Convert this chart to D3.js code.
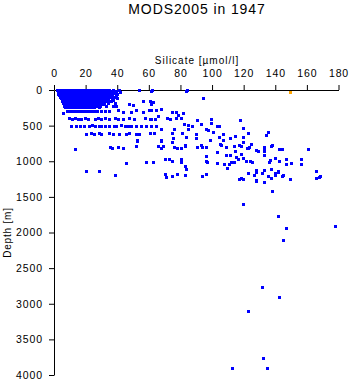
<!DOCTYPE html>
<html>
<head>
<meta charset="utf-8">
<script src="https://cdn.jsdelivr.net/npm/d3@7"></script>
<style>
  body { margin: 0; background: #fff; }
  svg { display: block; font-family: "Liberation Sans", Arial, sans-serif; }
</style>
</head>
<body>
<svg id="chart"></svg>
<script>
let blue = "#0000ff";
let orange = "#ffa500";

const width = 351;
const height = 384;
const margin = { top: 90, right: 12, bottom: 9, left: 54 };

const xTicks = [0, 20, 40, 60, 80, 100, 120, 140, 160, 180];
const yTicks = [0, 500, 1000, 1500, 2000, 2500, 3000, 3500, 4000];

// [silicate, depth] pairs
const surfacePoints = [
  [2.2,0],[4,0],[5.8,0],[7.5,0],[9.1,0],[10.9,0],[12.6,0],[14.2,0],[16,0],[17.7,0],[19.3,0],[21,0],[22.8,0],[24.5,0],[26.1,0],[27.9,0],[29.6,0],[31.2,0],[33,0],[34.6,0],[37.5,0],[41.2,0],[54,0],[62,0],[84,0],
  [2.8,12],[4.6,12],[6.4,12],[8.2,12],[10,12],[11.7,12],[13.5,12],[15.3,12],[17,12],[18.8,12],[20.6,12],[22.3,12],[24,12],[25.8,12],[27.5,12],[29.3,12],[31,12],[32.8,12],[34.4,12],[36.5,12],[39.4,12],[61.6,14],[83.7,14],
  [2.4,25],[4.2,25],[6,25],[7.9,25],[9.6,25],[11.4,25],[13.1,25],[14.9,25],[16.6,25],[18.4,25],[20.1,25],[21.9,25],[23.6,25],[25.3,25],[27.1,25],[28.8,25],[30.6,25],[32.3,25],[34,25],[36,25],[38.6,25],[42,25],
  [3,40],[4.8,40],[6.6,40],[8.3,40],[10.1,40],[11.8,40],[13.6,40],[15.4,40],[17.1,40],[18.9,40],[20.6,40],[22.4,40],[24.1,40],[25.9,40],[27.6,40],[29.4,40],[31.2,40],[33,40],[35.2,40],[37.8,40],
  [2.7,55],[4.5,55],[6.2,55],[8,55],[9.8,55],[11.5,55],[13.3,55],[15,55],[16.8,55],[18.5,55],[20.3,55],[22,55],[23.8,55],[25.5,55],[27.3,55],[29,55],[30.8,55],[32.6,55],[34.5,55],[37,55],[40.1,55],
  [3.4,75],[5.2,75],[7,75],[8.7,75],[10.5,75],[12.2,75],[14,75],[15.7,75],[17.5,75],[19.2,75],[21,75],[22.7,75],[24.5,75],[26.2,75],[28,75],[29.7,75],[31.5,75],[33.4,75],[36.1,75],[39,75],
  [3.6,95],[5.4,95],[7.1,95],[8.9,95],[10.6,95],[12.4,95],[14.1,95],[15.9,95],[17.6,95],[19.4,95],[21.1,95],[22.9,95],[24.6,95],[26.4,95],[28.1,95],[30,95],[32.2,95],[34.8,95],[38.2,95],[94.4,112],
  [4.5,115],[6.3,115],[8,115],[9.8,115],[11.5,115],[13.3,115],[15,115],[16.8,115],[18.5,115],[20.3,115],[22,115],[23.8,115],[25.5,115],[27.3,115],[29.1,115],[31,115],[33.5,115],[36.6,115],[39.9,115],
  [5,140],[6.8,140],[8.5,140],[10.3,140],[12,140],[13.8,140],[15.5,140],[17.3,140],[19,140],[20.8,140],[22.5,140],[24.3,140],[26,140],[27.8,140],[29.6,140],[31.7,140],[34.2,140],[37.3,140],[56.5,150],[60.5,150],
  [5.3,160],[7.1,160],[8.8,160],[10.6,160],[12.3,160],[14.1,160],[15.8,160],[17.6,160],[19.3,160],[21.1,160],[22.8,160],[24.6,160],[26.3,160],[28.2,160],[30.4,160],[33,160],[36,160],[62.8,168],
  [5.8,180],[7.6,180],[9.3,180],[11.1,180],[12.8,180],[14.6,180],[16.3,180],[18.1,180],[19.8,180],[21.6,180],[23.3,180],[25.1,180],[27,180],[29,180],[31.5,180],[34.4,180],[38.4,180],[61.6,196],
  [6.2,200],[8,200],[9.7,200],[11.5,200],[13.2,200],[15,200],[16.7,200],[18.5,200],[20.2,200],[22,200],[23.9,200],[26,200],[28.4,200],[31,200],[47.2,200],[50,210],
  [6.5,220],[8.3,220],[10.1,220],[11.8,220],[13.6,220],[15.3,220],[17.1,220],[18.8,220],[20.6,220],[22.4,220],[24.3,220],[26.5,220],[29,220],[32.8,220],[37.5,225],[39.5,230],
  [7,240],[8.8,240],[10.5,240],[12.3,240],[14,240],[15.8,240],[17.5,240],[19.3,240],[21.2,240],[23.3,240],[25.6,240],[28.3,240]
];

const midPoints = [
  [8,295],[9.8,290],[11.5,300],[13.3,290],[15,295],[16.8,290],[18.5,300],[20.3,290],[22,295],[23.8,300],[25.6,290],[27.5,295],[29.6,290],[32,300],[34.8,290],
  [40.7,281],[43.9,309],[49,309],[52,281],[56.5,309],[60.3,281],[61.6,281],[64.7,281],[67.9,267],[6,323],[74.9,309],[77.4,309],[78.6,351],[81.8,323],[66,365],[64,407],[61.6,407],
  [9.8,395],[11.6,405],[13.4,398],[15.3,410],[17.2,400],[19.5,393],[21.6,407],[25.8,400],[28,390],[30,405],[32.4,395],[34.8,400],[38.4,393],[40.6,407],[43.4,400],[47.2,393],[50.3,400],[57.3,393],[60.6,400],
  [71.7,393],[73.6,407],[77.4,393],[80.5,393],[90.6,421],[99.5,407],[117.8,421],
  [11,505],[14.2,500],[16.3,510],[18.7,500],[22,505],[24,495],[26,510],[28.2,500],[30,505],[32.3,500],[34.6,510],[37.8,500],[39.5,505],[42.6,495],[44.8,505],[47,500],[49,510],[52.1,505],[54.8,500],[58.4,505],[61.6,500],[64.7,505],
  [67.9,547],[82.4,477],[85,491],[85,547],[87.5,505],[93.2,477],[96.3,547],[99.5,463],[97.6,561],[103.3,505],[104.6,505],[119.7,533],[76.1,547],
  [20.5,617],[23.7,610],[25.6,620],[28.7,605],[30,615],[35,610],[37.6,620],[41.4,612],[45.8,617],[47.7,605],[52,620],[54,612],
  [63.5,603],[61,603],[74.9,603],[81.2,603],[83.7,660],[90,617],[90,674],[100.8,589],[104.6,660],[107.1,617],[107.1,702],[111.5,674],[114.7,646],[119.7,660],[122.9,603],[134.2,632],[135.5,589],
  [98.9,702],[67.9,702],[75.5,674],[52.7,702],[52.1,786]
];

const deepPoints = [
  [67.9,716],[74.9,730],[66,786],[67.9,814],[69.2,786],[76.1,800],[78,814],[80.5,814],[83.1,786],[83.1,772],[90.6,800],[93.2,772],[93.8,800],[96.3,800],
  [105.2,758],[105.8,772],[109,800],[114,786],[117.2,772],[118.4,786],[119.7,730],[122.2,814],[124.8,758],[123.5,800],[122.9,814],[127.9,842],[129.2,856],
  [133,800],[133,856],[133,814],[137.4,786],[138,772],[142.5,828],[144.3,828],[160.8,828],[13.6,828],[35.7,800],[37,814],[40.7,800],[43.9,814],[52.7,716],
  [103.3,870],[96.3,926],[109,912],[111.5,912],[114.7,856],[115.3,940],[118.4,898],[133,912],[139.9,954],
  [116.6,968],[114,1010],[112.1,1010],[119.7,954],[121.6,996],[107.7,1039],[109.6,1095],[110.9,1039],[103.3,1025],[97,1010],[96.3,996],
  [80.5,968],[80.5,1010],[83.1,1067],[83.7,1109],[74.9,996],[73,968],[70.4,968],[62.9,1010],[45.8,1025],[58.4,1010],
  [146.9,968],[146.9,1039],[150,1025],[156.3,968],[156.3,1039],[136.8,982],[136,1010],[142.5,996],[124.1,996],[125.4,1010],
  [20.5,1137],[28.7,1137],[38.9,1193],[70.4,1179],[71.1,1221],[74.9,1207],[78,1179],[83.1,1193],[93.8,1207],[96.3,1179],
  [118.4,1235],[119.7,1249],[117.2,1249],[122.9,1165],[126.7,1193],[127.9,1263],[127.9,1123],[127.9,1151],[127.9,1277],[131.7,1165],[133,1123],[133,1291],
  [135.5,1207],[137.4,1109],[137.4,1235],[139.9,1165],[139.9,1193],[141.8,1137],[141.8,1151],[144.3,1207],[145,1193],[149.4,1249],
  [165.8,1137],[165.8,1235],[167.7,1221],[168.4,1207],
  [138,1418],[119.7,1600],[141.8,1768],[146.9,1937],[145,2105],[177.8,1909],
  [131.7,2765],[142.5,2905],[122.9,3102],[132.3,3761],[112.8,3901],[134.9,3901]
];

const flaggedPoints = [[149.5, 25]];

const bluePoints = surfacePoints.concat(midPoints, deepPoints);

const svg = d3.select("#chart")
  .attr("width", width)
  .attr("height", height);

const xScale = d3.scaleLinear()
  .domain([0, 180])
  .range([margin.left, width - margin.right - 0.5]);

const yScale = d3.scaleLinear()
  .domain([0, 4000])
  .range([margin.top, height - margin.bottom]);

// title
svg.append("text")
  .attr("x", 197)
  .attr("y", 14)
  .attr("text-anchor", "middle")
  .style("font-size", "14px")
  .style("letter-spacing", "0.9px")
  .text("MODS2005 in 1947");

svg.append("text")
  .attr("x", 197)
  .attr("y", 64)
  .attr("text-anchor", "middle")
  .style("font-size", "10px")
  .style("letter-spacing", "1px")
  .text("Silicate [µmol/l]");

svg.append("text")
  .attr("transform", `translate(11, ${(margin.top + height - margin.bottom) / 2}) rotate(-90)`)
  .attr("text-anchor", "middle")
  .style("font-size", "10px")
  .style("letter-spacing", "0.8px")
  .text("Depth [m]");

//x axis
svg.append("g")
  .attr("class", "xaxis")
  .attr("transform", `translate(0, ${margin.top})`)
  .call(d3.axisTop(xScale).tickValues(xTicks).tickFormat(d3.format("d"))
    .tickSizeInner(5).tickSizeOuter(0).tickPadding(8));

//y axis
svg.append("g")
  .attr("class", "yaxis")
  .attr("transform", `translate(${margin.left}, 0)`)
  .call(d3.axisLeft(yScale).tickValues(yTicks).tickFormat(d3.format("d"))
    .tickSizeInner(5).tickSizeOuter(0).tickPadding(6));

svg.selectAll(".xaxis text, .yaxis text")
  .attr("fill", "#000")
  .style("font-family", "'Liberation Sans', Arial, sans-serif")
  .style("font-size", "10.5px")
  .style("letter-spacing", "0.9px");

svg.selectAll(".domain, .tick line")
  .attr("stroke", "#000");

//points
svg.append("g")
  .selectAll("rect")
  .data(bluePoints)
  .enter()
  .append("rect")
  .attr("x", d => Math.round(xScale(d[0])) - 1)
  .attr("y", d => Math.round(yScale(d[1])) - 1)
  .attr("width", 3)
  .attr("height", 3)
  .attr("fill", blue)
  .attr("shape-rendering", "crispEdges");

svg.append("g")
  .selectAll("rect")
  .data(flaggedPoints)
  .enter()
  .append("rect")
  .attr("x", d => Math.round(xScale(d[0])) - 1)
  .attr("y", d => Math.round(yScale(d[1])) - 1)
  .attr("width", 3)
  .attr("height", 3)
  .attr("fill", orange)
  .attr("shape-rendering", "crispEdges");
</script>
</body>
</html>
